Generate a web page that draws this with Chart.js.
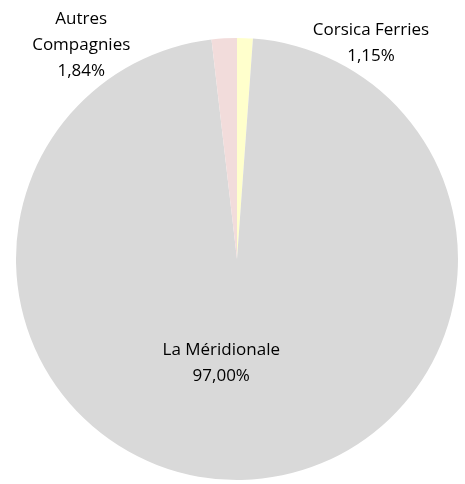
<!DOCTYPE html>
<html>
<head>
<meta charset="utf-8">
<script src="https://cdn.jsdelivr.net/npm/chart.js@4/dist/chart.umd.min.js"></script>
<style>
  html, body { margin: 0; padding: 0; background: #fff; }
  #wrap { width: 465px; height: 484px; }
</style>
</head>
<body>
<div id="wrap"><canvas id="pie"></canvas></div>
<script>
// données
const compagnies = ['Corsica Ferries', 'La Méridionale', 'Autres Compagnies'];
const parts = [1.15, 97.00, 1.84];
const couleurs = ['#ffffcc', '#d9d9d9', '#f2dcdb'];

// lignes d'étiquette, rayon relatif d'ancrage et décalage (dx, dy)
const etiquettes = [
  ['Corsica Ferries', '1,15%'],
  ['La Méridionale', '97,00%'],
  ['Autres', 'Compagnies', '1,84%']
];
const rayons = [1, 0.47, 1];
const decalages = [[126, 5], [-18, 0], [-143, 7]];

const labelPlugin = {
  id: 'etiquettes',
  afterDatasetsDraw(chart) {
    const ctx = chart.ctx;
    const arcs = chart.getDatasetMeta(0).data;
    ctx.save();
    ctx.font = '17px "Open Sans"';
    ctx.fillStyle = '#000';
    ctx.textAlign = 'center';
    ctx.textBaseline = 'middle';
    const lh = 26;
    arcs.forEach((arc, i) => {
      const a = (arc.startAngle + arc.endAngle) / 2;
      const x = arc.x + Math.cos(a) * arc.outerRadius * rayons[i] + decalages[i][0];
      const y = arc.y + Math.sin(a) * arc.outerRadius * rayons[i] + decalages[i][1];
      const lignes = etiquettes[i];
      const y0 = y - (lignes.length - 1) * lh / 2;
      lignes.forEach((t, k) => ctx.fillText(t, x, y0 + k * lh));
    });
    ctx.restore();
  }
};

new Chart(document.getElementById('pie').getContext('2d'), {
  type: 'pie',
  data: {
    labels: compagnies,
    datasets: [{ data: parts, backgroundColor: couleurs, borderWidth: 0 }]
  },
  options: {
    responsive: true,
    maintainAspectRatio: false,
    animation: false,
    layout: { padding: { left: 16, right: 7, top: 38, bottom: 4 } },
    plugins: { legend: { display: false }, tooltip: { enabled: false } }
  },
  plugins: [labelPlugin]
});
</script>
</body>
</html>
